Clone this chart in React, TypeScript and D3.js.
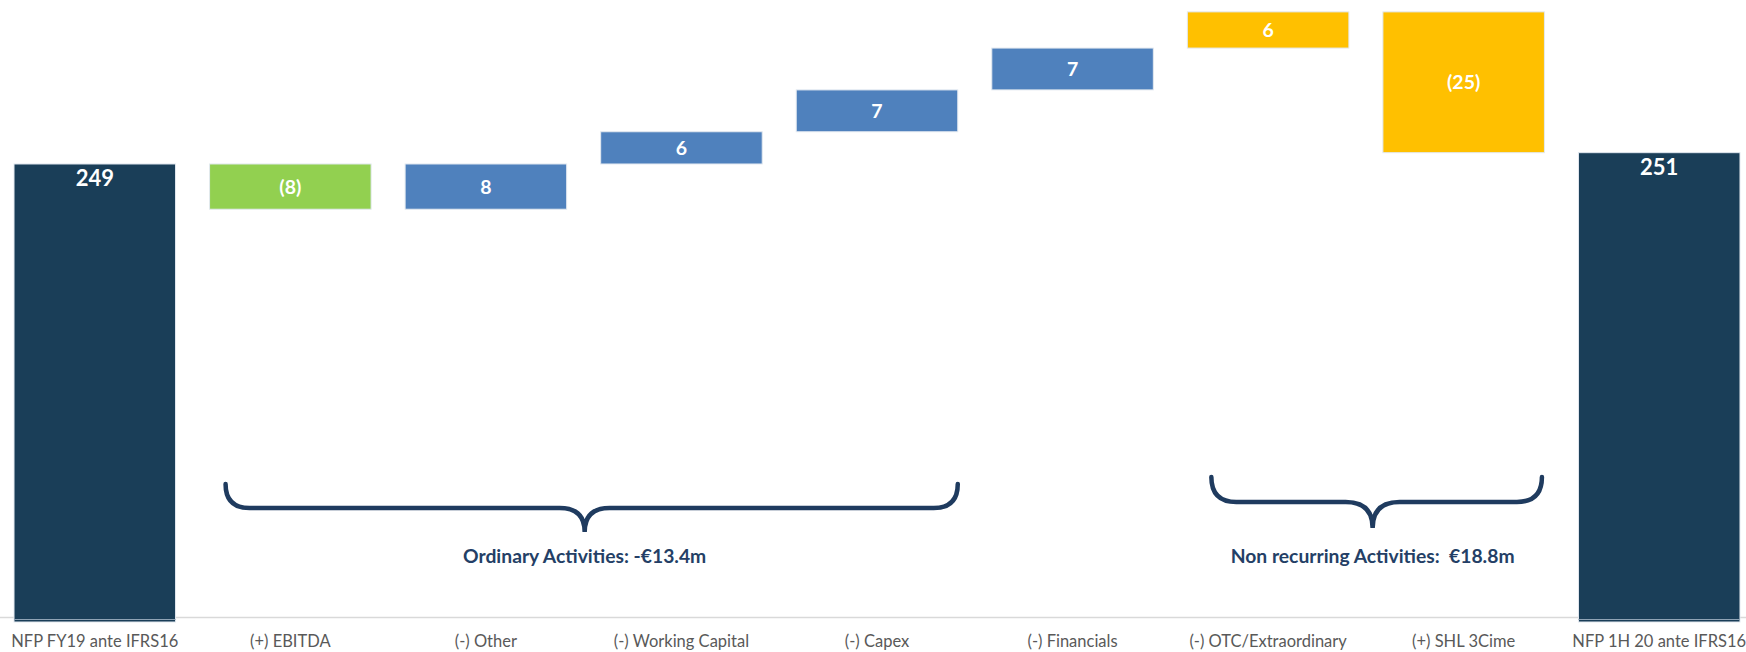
import React from "react";
import * as d3 from "d3";

const categories = [
  "NFP FY19 ante IFRS16",
  "(+) EBITDA",
  "(-) Other",
  "(-) Working Capital",
  "(-) Capex",
  "(-) Financials",
  "(-) OTC/Extraordinary",
  "(+) SHL 3Cime",
  "NFP 1H 20 ante IFRS16",
];
const startValue = 249;
const endValue = 251;
const deltaValues = [-8.0, 8.0, 5.7, 7.4, 7.4, 6.4, -24.9];
const deltaGroups = ["ebitda", "ordinary", "ordinary", "ordinary", "ordinary", "nonrec", "nonrec"];
const bracketLabels = ["Ordinary Activities: -€13.4m", "Non recurring Activities:  €18.8m"];
const bracketFrom = [1, 6];
const bracketTo = [4, 7];

const W = 1746;
const H = 652;
const COLORS: Record<string, string> = {
  total: "#1A3E58",
  ebitda: "#92D050",
  ordinary: "#4F81BD",
  nonrec: "#FFC000",
};
const FONT = "Lato, 'Open Sans', sans-serif";

function fmt(v: number) {
  const r = Math.round(Math.abs(v));
  return v < 0 ? `(${r})` : `${r}`;
}

export default function App() {
  const x = d3
    .scaleBand<string>()
    .domain(categories)
    .range([-3, 1757])
    .paddingInner(0.174)
    .paddingOuter(0.087);
  const y = d3.scaleLinear().domain([168, 278]).range([622, 0]);
  const bw = x.bandwidth();

  type Bar = { cat: string; y0: number; y1: number; value: number; kind: string; total: boolean };
  const bars: Bar[] = [];
  bars.push({ cat: categories[0], y0: y.domain()[0], y1: startValue, value: startValue, kind: "total", total: true });
  let run = startValue;
  deltaValues.forEach((d, i) => {
    const next = run + d;
    bars.push({ cat: categories[i + 1], y0: run, y1: next, value: d, kind: deltaGroups[i], total: false });
    run = next;
  });
  bars.push({ cat: categories[8], y0: y.domain()[0], y1: endValue, value: endValue, kind: "total", total: true });

  const axisY = 617.5;

  const bracePath = (x0: number, x1: number, xt: number, yTop: number, yMid: number, yTip: number) => {
    const r = yMid - yTop;
    const r2 = yTip - yMid + 1;
    return `M${x0},${yTop} Q${x0},${yMid} ${x0 + r},${yMid} L${xt - r2},${yMid} Q${xt},${yMid} ${xt},${yTip} Q${xt},${yMid} ${xt + r2},${yMid} L${x1 - r},${yMid} Q${x1},${yMid} ${x1},${yTop}`;
  };

  const braceStartOffsets = [16, 24];
  const braceEndOffsets = [0, -2.5];
  const braceTipShift = [-7, -4];
  const braceTops = [484, 477];
  const braceMids = [508, 502];
  const braceTips = [532, 528];

  return (
    <svg
      width={W}
      height={H}
      style={{ position: "absolute", left: 0, top: 0, background: "#fff" }}
      fontFamily={FONT}
    >
      <line x1={0} x2={W} y1={axisY} y2={axisY} stroke="#D9D9D9" strokeWidth={1.5} />
      {bars.map((b, i) => {
        const top = y(Math.max(b.y0, b.y1));
        const bottom = y(Math.min(b.y0, b.y1));
        const x0 = x(b.cat)!;
        return (
          <g key={i}>
            <rect
              x={x0}
              y={top}
              width={bw}
              height={bottom - top}
              fill={COLORS[b.kind]}
              stroke="#E3E9F0"
              strokeWidth={1}
            />
            {b.total && (
              <line x1={x0} x2={x0 + bw} y1={bottom - 2.5} y2={bottom - 2.5} stroke="#8FA3B5" strokeWidth={1} />
            )}
            <text
              x={x0 + bw / 2}
              y={b.total ? top + 22 : (top + bottom) / 2}
              dy={b.total ? 0 : "0.36em"}
              textAnchor="middle"
              fill="#fff"
              fontWeight={700}
              fontSize={b.total ? 22 : 19.5}
            >
              {fmt(b.value)}
            </text>
          </g>
        );
      })}
      {categories.map((c) => (
        <text
          key={c}
          x={x(c)! + bw / 2}
          y={647}
          textAnchor="middle"
          fill="#595959"
          fontSize={16.5}
        >
          {c}
        </text>
      ))}
      {bracketLabels.map((lab, i) => {
        const x0 = x(categories[bracketFrom[i]])! + braceStartOffsets[i];
        const x1 = x(categories[bracketTo[i]])! + bw + braceEndOffsets[i];
        const xt = (x0 + x1) / 2 + braceTipShift[i];
        return (
          <g key={lab}>
            <path
              d={bracePath(x0, x1, xt, braceTops[i], braceMids[i], braceTips[i])}
              fill="none"
              stroke="#1F3B5F"
              strokeWidth={4.5}
              strokeLinecap="round"
            />
            <text
              x={xt}
              y={563}
              textAnchor="middle"
              fill="#243F66"
              fontWeight={700}
              fontSize={19.3}
              style={{ whiteSpace: "pre" }}
            >
              {lab}
            </text>
          </g>
        );
      })}
    </svg>
  );
}
